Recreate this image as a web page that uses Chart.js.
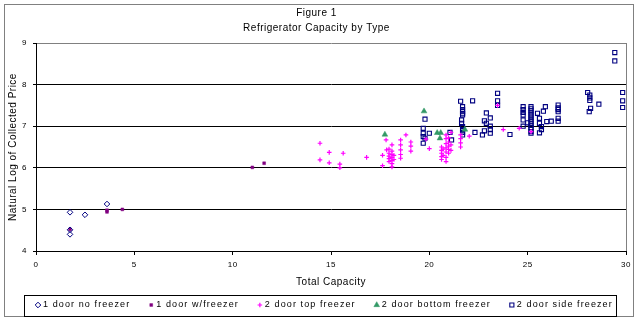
<!DOCTYPE html>
<html>
<head>
<meta charset="utf-8">
<script src="https://cdn.jsdelivr.net/npm/chart.js@4/dist/chart.umd.min.js"></script>
<style>
  html, body { margin: 0; padding: 0; background: #fff; }
  canvas { display: block; }
</style>
</head>
<body>
<canvas id="myChart" width="640" height="323"></canvas>
<script>
// values
const seriesNames = ["1 door no freezer", "1 door w/freezer", "2 door top freezer", "2 door bottom freezer", "2 door side freezer"];

const noFreezerX = [1.73, 1.73, 1.73, 2.49, 3.61];
const noFreezerY = [4.93, 4.51, 4.40, 4.87, 5.13];

const withFreezerX = [1.73, 3.61, 3.61, 4.39, 11.0, 11.6];
const withFreezerY = [4.52, 4.98, 4.94, 5.00, 6.01, 6.11];

const topFreezerX = [14.44, 14.44, 14.91, 14.91, 15.45, 15.45, 15.62, 16.81, 17.62, 17.62, 17.80, 17.83,
  17.95, 17.95, 17.95, 17.95, 17.95, 18.10, 18.10, 18.10, 18.10, 18.10, 18.10, 18.10, 18.20, 18.20,
  18.54, 18.54, 18.54, 18.54, 18.54, 18.81, 19.06, 19.06, 19.06, 19.83, 20.00,
  20.62, 20.62, 20.62, 20.62, 20.62, 20.70, 20.70,
  20.85, 20.85, 20.85, 20.85, 20.85, 20.85, 20.85,
  20.98, 20.98, 20.98, 20.98, 20.98, 21.10, 21.10, 21.10,
  21.59, 21.59, 21.59, 21.59, 22.03, 23.47, 23.76, 24.57, 25.17];
const topFreezerY = [6.59, 6.19, 6.37, 6.12, 6.09, 6.00, 6.35, 6.25, 6.30, 6.05, 6.67, 6.43,
  6.45, 6.35, 6.28, 6.22, 6.15, 6.55, 6.40, 6.32, 6.25, 6.18, 6.10, 6.02, 6.30, 6.20,
  6.67, 6.55, 6.43, 6.32, 6.23, 6.79, 6.62, 6.52, 6.40, 6.69, 6.46,
  6.50, 6.42, 6.35, 6.27, 6.20, 6.45, 6.30,
  6.79, 6.70, 6.58, 6.48, 6.38, 6.25, 6.15,
  6.72, 6.62, 6.52, 6.44, 6.35, 6.85, 6.55, 6.42,
  6.79, 6.70, 6.60, 6.50, 6.76, 7.50, 6.92, 6.95, 6.87];

const bottomFreezerX = [17.74, 19.73, 20.40, 20.58, 20.54, 21.81];
const bottomFreezerY = [6.80, 7.36, 6.84, 6.84, 6.71, 6.92];

const sideFreezerX = [19.78, 19.69, 19.69, 19.69, 19.69, 19.78, 20.00, 21.05, 21.13,
  21.59, 21.69, 21.69, 21.69, 21.69, 21.69, 21.64, 21.64, 21.69, 21.69, 21.69, 21.69,
  22.20, 22.32, 22.90, 22.80, 22.90, 23.10, 23.10, 23.10, 23.10, 22.80, 22.70,
  23.47, 23.47, 23.47, 24.10,
  24.77, 24.77, 24.77, 24.77, 24.77, 24.77,
  25.17, 25.17, 25.17, 25.17, 25.17, 25.17, 25.17, 25.17, 25.17, 25.17, 25.17, 25.17, 25.17, 25.17,
  25.00, 25.50, 25.60, 25.60, 25.60, 25.70, 25.70, 25.80, 25.90, 25.97, 26.20,
  26.55, 26.55, 26.55, 26.55, 26.55, 26.55,
  28.05, 28.16, 28.16, 28.16, 28.20, 28.13, 28.62, 29.43, 29.43, 29.83, 29.83, 29.83];
const sideFreezerY = [7.17, 6.95, 6.83, 6.75, 6.59, 6.71, 6.83, 6.85, 6.67,
  7.60, 7.47, 7.40, 7.35, 7.30, 7.27, 7.15, 7.07, 6.99, 6.92, 6.85, 6.79,
  7.61, 6.85, 7.32, 7.13, 7.07, 7.20, 7.00, 6.92, 6.83, 6.89, 6.79,
  7.79, 7.61, 7.50, 6.80,
  7.47, 7.40, 7.33, 7.27, 7.15, 7.00,
  7.47, 7.42, 7.37, 7.32, 7.27, 7.22, 7.17, 7.12, 7.07, 7.02, 6.97, 6.92, 6.87, 6.83,
  7.08, 7.31, 7.19, 7.07, 6.84, 6.99, 6.92, 7.36, 7.47, 7.11, 7.12,
  7.51, 7.44, 7.40, 7.35, 7.19, 7.12,
  7.81, 7.75, 7.68, 7.62, 7.43, 7.35, 7.53, 8.77, 8.57, 7.81, 7.61, 7.45];

const xTicks = [0, 5, 10, 15, 20, 25, 30];
const yTicks = [4, 5, 6, 7, 8, 9];

const fontFamily = 'Arial, "Liberation Sans", sans-serif';
Chart.defaults.font.family = fontFamily;
Chart.defaults.color = "#000";

function toPoints(xs, ys) {
  return xs.map((x, i) => ({ x: x, y: ys[i] }));
}

const ctx = document.querySelector("#myChart").getContext("2d");

// outer frame, plot border and the boxed legend under the chart
const excelFrame = {
  id: "excelFrame",
  beforeDraw(chart) {
    chart.ctx.letterSpacing = "0.5px";
  },
  beforeDatasetsDraw(chart) {
    const c = chart.ctx;
    const a = chart.chartArea;
    c.save();
    c.strokeStyle = "#808080";
    c.lineWidth = 1;
    c.beginPath();
    c.moveTo(Math.round(a.right) + 0.5, a.top);
    c.lineTo(Math.round(a.right) + 0.5, a.bottom);
    c.stroke();
    c.restore();
  },
  afterDraw(chart) {
    const c = chart.ctx;
    c.save();
    c.strokeStyle = "#808080";
    c.lineWidth = 1;
    c.strokeRect(4.5, 4.5, 629, 312);

    c.strokeStyle = "#000";
    c.strokeRect(24.5, 295.5, 592, 21);

    c.font = "9px " + fontFamily;
    c.letterSpacing = "1.1px";
    c.textBaseline = "middle";
    c.textAlign = "left";
    let x = 38;
    const y = 305;
    chart.data.datasets.forEach(ds => {
      c.fillStyle = ds.backgroundColor;
      c.strokeStyle = ds.borderColor;
      c.lineWidth = ds.borderWidth;
      Chart.helpers.drawPoint(c, {
        pointStyle: ds.pointStyle,
        radius: ds.pointRadius,
        borderWidth: ds.borderWidth,
        rotation: 0
      }, x, y);
      c.fillStyle = "#000";
      c.fillText(ds.label, x + 5, y);
      x += 5 + c.measureText(ds.label).width + 21;
    });
    c.restore();
  }
};

const scatter = new Chart(ctx, {
  type: "scatter",
  data: {
    datasets: [
      {
        label: seriesNames[0],
        data: toPoints(noFreezerX, noFreezerY),
        pointStyle: "rectRot",
        pointRadius: 2.8,
        borderWidth: 1,
        borderColor: "#000080",
        backgroundColor: "rgba(0,0,0,0)"
      },
      {
        label: seriesNames[1],
        data: toPoints(withFreezerX, withFreezerY),
        pointStyle: "rect",
        pointRadius: 2,
        borderWidth: 0.5,
        borderColor: "#800080",
        backgroundColor: "#800080"
      },
      {
        label: seriesNames[2],
        data: toPoints(topFreezerX, topFreezerY),
        pointStyle: "cross",
        pointRadius: 2.3,
        borderWidth: 1.2,
        borderColor: "#ff00ff",
        backgroundColor: "#ff00ff"
      },
      {
        label: seriesNames[3],
        data: toPoints(bottomFreezerX, bottomFreezerY),
        pointStyle: "triangle",
        pointRadius: 3.3,
        borderWidth: 0.5,
        borderColor: "#339966",
        backgroundColor: "#339966"
      },
      {
        label: seriesNames[4],
        data: toPoints(sideFreezerX, sideFreezerY),
        pointStyle: "rect",
        pointRadius: 2.9,
        borderWidth: 1.1,
        borderColor: "#000080",
        backgroundColor: "rgba(0,0,0,0)"
      }
    ]
  },
  options: {
    responsive: false,
    animation: false,
    layout: { padding: { left: 7, right: 14, top: 0, bottom: 32 } },
    plugins: {
      legend: { display: false },
      tooltip: { enabled: false },
      title: {
        display: true,
        text: ["Figure 1", "Refrigerator Capacity by Type"],
        color: "#000",
        font: { size: 10, weight: "normal", lineHeight: 1.5 },
        padding: { top: 6, bottom: 7 }
      }
    },
    scales: {
      x: {
        type: "linear",
        min: xTicks[0],
        max: xTicks[xTicks.length - 1],
        afterBuildTicks: s => { s.ticks = xTicks.map(v => ({ value: v })); },
        ticks: { color: "#000", font: { size: 8 }, padding: 5, maxRotation: 0, autoSkip: false },
        grid: { drawOnChartArea: false, tickColor: "#000", tickLength: 4 },
        border: { color: "#000", width: 1 },
        title: { display: true, text: "Total Capacity", color: "#000", font: { size: 10 }, padding: { top: 0, bottom: 3 } },
        afterFit: s => { s.height = 40; }
      },
      y: {
        type: "linear",
        min: yTicks[0],
        max: yTicks[yTicks.length - 1],
        afterBuildTicks: s => { s.ticks = yTicks.map(v => ({ value: v })); },
        ticks: { color: "#000", font: { size: 8 }, padding: 6 },
        grid: {
          color: c => (c.tick && c.tick.value === yTicks[yTicks.length - 1] ? "#808080" : "#000"),
          tickColor: "#000",
          tickLength: 3,
          lineWidth: 1
        },
        border: { color: "#000", width: 1 },
        title: { display: true, text: "Natural Log of Collected Price", color: "#000", font: { size: 10 }, padding: 0 },
        afterFit: s => { s.width = 29; }
      }
    }
  },
  plugins: [excelFrame]
});
</script>
</body>
</html>
